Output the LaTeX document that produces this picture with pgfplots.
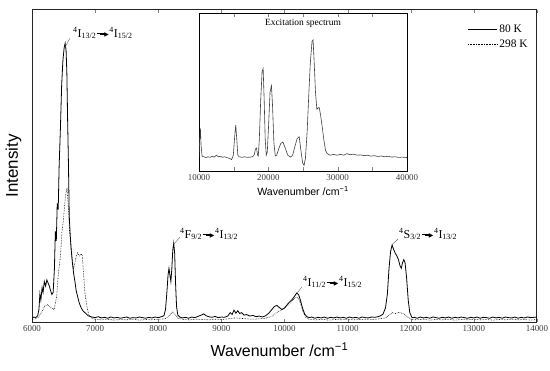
\documentclass[border=0pt]{standalone}
\usepackage{pgfplots}
\pgfplotsset{compat=1.18}
\usepackage{fontspec}
\setmainfont{Liberation Serif}
\setsansfont{Liberation Sans}
\newfontfamily\dejavu{DejaVu Sans}
\newcommand{\tarr}{\kern0.5pt\rule[0.27em]{0.3em}{0.04em}\rule[0.21em]{0.4em}{0.16em}\kern-0.08em{\dejavu\fontsize{6}{6}\selectfont\raisebox{0.06em}{▶}}\kern0.5pt}
\newcommand{\lev}[2]{\textsuperscript{4}#1\textsubscript{#2}}
\begin{document}
\begin{tikzpicture}
\useasboundingbox (-32bp,-49bp) rectangle (518bp,322bp);
\begin{axis}[
  at={(0,0)}, anchor=south west,
  scale only axis, width=505bp, height=312bp,
  xmin=6000, xmax=14000, ymin=0, ymax=1,
  xtick={6000,7000,...,14000}, ytick=\empty,
  scaled x ticks=false,
  /pgf/number format/set thousands separator={},
  /pgf/number format/assume math mode=true,
  tick align=inside, major tick length=3bp,
  xticklabel style={font=\fontsize{9}{10}\selectfont, text=black!75},
  axis line style={black!85, line width=1pt},
  xlabel={\sffamily\fontsize{16}{18}\selectfont Wavenumber /cm\textsuperscript{−1}},
  xlabel style={at={(axis description cs:0.49,0)}, anchor=north, yshift=-17bp},
  ylabel={\sffamily\fontsize{17}{18}\selectfont Intensity},
  ylabel style={at={(axis description cs:-0.014,0.5)}, anchor=south},
  legend style={at={(0.988,0.962)}, anchor=north east, draw=none, fill=none,
    font=\fontsize{11.5}{12}\selectfont, row sep=2pt, inner sep=1pt},
  legend cell align=left,
  legend image code/.code={\draw[#1] (0bp,0bp) -- (29bp,0bp);},
]
\addplot[black, line width=0.8pt] coordinates {
(6000,0.012)(6030,0.016)(6060,0.014)(6090,0.02)(6110,0.04)(6125,0.09)(6140,0.07)(6160,0.11)(6175,0.095)(6195,0.13)(6215,0.115)(6235,0.135)(6255,0.125)(6275,0.115)(6295,0.10)(6315,0.088)(6335,0.095)(6355,0.17)(6370,0.29)(6385,0.26)(6400,0.38)(6415,0.36)(6430,0.50)(6450,0.62)(6470,0.76)(6490,0.84)(6510,0.88)(6525,0.893)(6540,0.87)(6552,0.80)(6565,0.64)(6578,0.50)(6590,0.34)(6605,0.28)(6620,0.235)(6640,0.19)(6660,0.155)(6680,0.13)(6700,0.10)(6725,0.08)(6750,0.06)(6780,0.045)(6810,0.035)(6850,0.028)(6890,0.02)
(6950,0.016)(7000,0.014)(7050,0.017)(7100,0.013)(7150,0.015)(7200,0.012)(7250,0.016)(7300,0.013)(7350,0.015)(7400,0.012)(7450,0.014)(7500,0.016)(7550,0.012)(7600,0.014)(7650,0.013)(7700,0.016)(7750,0.014)(7800,0.012)(7850,0.015)(7900,0.013)(7950,0.016)(8000,0.014)(8050,0.017)(8090,0.02)
(8115,0.04)(8135,0.09)(8155,0.15)(8170,0.172)(8185,0.15)(8200,0.13)(8215,0.17)(8230,0.23)(8245,0.253)(8260,0.22)(8275,0.12)(8290,0.05)(8310,0.022)
(8340,0.016)(8380,0.013)(8430,0.015)(8480,0.012)(8530,0.016)(8580,0.014)(8630,0.018)(8680,0.022)(8720,0.026)(8760,0.02)(8800,0.017)(8850,0.015)(8900,0.018)(8950,0.014)(9000,0.016)(9050,0.015)(9100,0.019)
(9140,0.03)(9170,0.024)(9200,0.038)(9230,0.028)(9260,0.036)(9290,0.027)(9320,0.03)(9360,0.022)(9400,0.024)(9450,0.019)(9500,0.021)(9550,0.017)(9600,0.019)(9650,0.016)(9700,0.02)
(9750,0.028)(9800,0.04)(9840,0.05)(9880,0.053)(9920,0.046)(9960,0.04)(10000,0.045)(10040,0.055)(10080,0.064)(10120,0.072)(10160,0.083)(10195,0.093)(10225,0.087)(10255,0.068)(10285,0.045)(10320,0.025)(10360,0.016)
(10400,0.014)(10430,0.016)(10480,0.012)(10530,0.015)(10580,0.013)(10630,0.016)(10680,0.012)(10730,0.015)(10780,0.013)(10830,0.016)(10880,0.013)(10930,0.015)(10980,0.012)(11030,0.016)(11080,0.013)(11130,0.015)(11180,0.012)(11230,0.016)(11280,0.014)(11330,0.013)(11380,0.016)(11430,0.015)(11480,0.017)(11520,0.02)
(11560,0.025)(11600,0.045)(11630,0.09)(11655,0.17)(11680,0.225)(11705,0.247)(11730,0.232)(11755,0.22)(11780,0.212)(11805,0.2)(11830,0.18)(11850,0.172)(11870,0.19)(11890,0.2)(11910,0.19)(11935,0.14)(11960,0.07)(11985,0.03)(12020,0.014)
(12060,0.015)(12100,0.012)(12150,0.016)(12200,0.013)(12250,0.015)(12300,0.012)(12350,0.016)(12400,0.014)(12450,0.012)(12500,0.015)(12550,0.013)(12600,0.016)(12650,0.012)(12700,0.015)(12750,0.013)(12800,0.016)(12850,0.014)(12900,0.012)(12950,0.015)(13000,0.013)(13050,0.016)(13100,0.012)(13150,0.015)(13200,0.014)(13250,0.012)(13300,0.016)(13350,0.013)(13400,0.015)(13450,0.012)(13500,0.016)(13550,0.014)(13600,0.013)(13650,0.016)(13700,0.012)(13750,0.015)(13800,0.013)(13850,0.016)(13900,0.014)(13950,0.015)(14000,0.016)
};
\addlegendentry{80 K}
\addplot[black, line width=0.6pt, densely dotted] coordinates {
(6000,0.008)(6050,0.01)(6100,0.015)(6150,0.03)(6200,0.05)(6250,0.056)(6300,0.046)(6350,0.04)(6390,0.08)(6420,0.16)(6450,0.21)(6475,0.29)(6495,0.32)(6515,0.37)(6535,0.41)(6555,0.43)(6575,0.37)(6595,0.29)(6615,0.245)(6635,0.205)(6655,0.17)(6675,0.185)(6700,0.21)(6725,0.222)(6750,0.212)(6775,0.218)(6795,0.215)(6815,0.16)(6840,0.09)(6870,0.05)(6900,0.022)(6950,0.011)
(7000,0.009)(7100,0.007)(7200,0.009)(7300,0.006)(7400,0.008)(7500,0.007)(7600,0.009)(7700,0.006)(7800,0.008)(7900,0.007)(8000,0.009)(8100,0.01)(8150,0.015)(8190,0.025)(8230,0.032)(8270,0.024)(8310,0.012)(8400,0.008)(8500,0.007)(8600,0.009)(8700,0.008)(8800,0.007)(8900,0.009)(9000,0.008)(9100,0.01)(9200,0.013)(9300,0.012)(9400,0.01)(9500,0.009)(9600,0.01)(9700,0.012)(9800,0.018)(9870,0.03)(9930,0.036)(10000,0.045)(10060,0.055)(10120,0.068)(10170,0.078)(10210,0.08)(10250,0.062)(10290,0.035)(10340,0.014)(10400,0.008)
(10500,0.007)(10600,0.009)(10700,0.006)(10800,0.008)(10900,0.007)(11000,0.009)(11100,0.007)(11200,0.008)(11300,0.009)(11400,0.008)(11500,0.01)(11600,0.013)(11660,0.022)(11710,0.03)(11760,0.027)(11810,0.031)(11860,0.028)(11910,0.024)(11960,0.014)(12020,0.008)(12100,0.007)(12200,0.009)(12300,0.006)(12400,0.008)(12500,0.007)(12600,0.009)(12700,0.006)(12800,0.008)(12900,0.007)(13000,0.009)(13100,0.007)(13200,0.008)(13300,0.006)(13400,0.008)(13500,0.007)(13600,0.009)(13700,0.007)(13800,0.008)(13900,0.006)(14000,0.008)
};
\addlegendentry{298 K}
% annotations
\draw[black!60, thin] (axis cs:6602,0.910) -- (axis cs:6523,0.881);
\node[anchor=base west, inner sep=0pt, font=\fontsize{12}{13}\selectfont] at (axis cs:6650,0.913) {\lev{I}{13/2}\tarr\lev{I}{15/2}};
\draw[black!60, thin] (axis cs:8345,0.272) -- (axis cs:8250,0.250);
\node[anchor=base west, inner sep=0pt, font=\fontsize{12}{13}\selectfont] at (axis cs:8345,0.269) {\lev{F}{9/2}\tarr\lev{I}{13/2}};
\draw[black!60, thin] (axis cs:10277,0.112) -- (axis cs:10198,0.093);
\node[anchor=base west, inner sep=0pt, font=\fontsize{12}{13}\selectfont] at (axis cs:10293,0.115) {\lev{I}{11/2}\tarr\lev{I}{15/2}};
\draw[black!60, thin] (axis cs:11798,0.266) -- (axis cs:11703,0.247);
\node[anchor=base west, inner sep=0pt, font=\fontsize{12}{13}\selectfont] at (axis cs:11814,0.269) {\lev{S}{3/2}\tarr\lev{I}{13/2}};
\end{axis}
\begin{axis}[
  at={(167bp,151bp)}, anchor=south west,
  scale only axis, width=208bp, height=158bp,
  xmin=10000, xmax=40000, ymin=0, ymax=1,
  xtick={10000,20000,30000,40000}, minor xtick={15000,25000,35000},
  ytick=\empty,
  scaled x ticks=false,
  /pgf/number format/set thousands separator={},
  /pgf/number format/assume math mode=true,
  tick align=inside, major tick length=4bp, minor tick length=4bp,
  xticklabel style={font=\fontsize{9}{10}\selectfont, text=black!75},
  axis line style={black, line width=0.8pt},
  axis background/.style={fill=white},
  xlabel={\sffamily\fontsize{10.6}{12}\selectfont Wavenumber /cm\textsuperscript{−1}},
  xlabel style={yshift=1bp},
  title={\fontsize{9.5}{10}\selectfont Excitation spectrum},
  title style={at={(axis description cs:0.5,1)}, anchor=north, yshift=-9bp},
]
\addplot[black!75, line width=0.6pt] coordinates {
(10000,0.09)(10100,0.2)(10200,0.27)(10300,0.16)(10450,0.093)(10700,0.09)(11000,0.085)(11300,0.09)(11600,0.087)(11900,0.092)(12200,0.088)(12500,0.1)(12800,0.09)(13100,0.093)(13400,0.087)(13700,0.09)(14000,0.085)(14400,0.08)(14700,0.072)(14950,0.1)(15150,0.22)(15300,0.29)(15450,0.2)(15600,0.1)(15800,0.09)(16200,0.087)(16600,0.09)(17000,0.086)(17400,0.088)(17700,0.09)(17950,0.1)(18150,0.14)(18300,0.145)(18450,0.1)(18550,0.095)(18700,0.2)(18900,0.45)(19100,0.63)(19250,0.65)(19400,0.45)(19550,0.2)(19700,0.1)(19850,0.12)(20050,0.3)(20250,0.5)(20450,0.54)(20600,0.42)(20800,0.18)(21000,0.095)(21200,0.1)(21500,0.14)(21800,0.175)(22100,0.183)(22400,0.15)(22800,0.1)(23200,0.088)(23500,0.1)(23800,0.15)(24150,0.205)(24450,0.217)(24700,0.13)(24950,0.05)(25150,0.036)(25350,0.08)(25600,0.25)(25800,0.45)(26050,0.68)(26300,0.82)(26450,0.83)(26600,0.7)(26800,0.5)(27000,0.39)(27200,0.4)(27350,0.4)(27550,0.35)(27800,0.27)(28000,0.2)(28250,0.13)(28500,0.11)(28900,0.1)(29400,0.105)(29900,0.1)(30400,0.105)(30900,0.1)(31300,0.11)(31800,0.103)(32300,0.107)(32800,0.1)(33300,0.102)(33800,0.097)(34300,0.1)(34800,0.094)(35300,0.097)(35800,0.092)(36300,0.095)(36800,0.09)(37300,0.093)(37800,0.088)(38300,0.09)(38800,0.086)(39300,0.088)(40000,0.085)
};
\end{axis}
\end{tikzpicture}
\end{document}
